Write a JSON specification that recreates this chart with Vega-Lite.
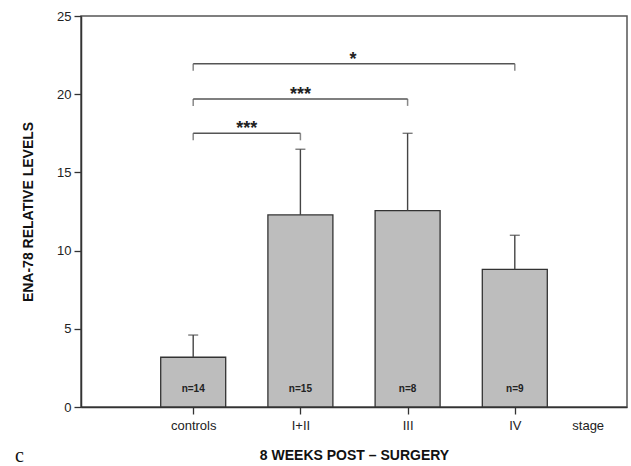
{
  "$schema": "https://vega.github.io/schema/vega-lite/v6.json",
  "width": 546,
  "height": 391,
  "autosize": {"type": "none"},
  "padding": {"left": 81, "top": 16, "right": 4, "bottom": 59},
  "background": "white",
  "config": {
    "view": {"stroke": "#555", "strokeWidth": 1.5},
    "font": "Liberation Sans"
  },
  "title": {
    "text": "c",
    "orient": "bottom",
    "anchor": "start",
    "frame": "group",
    "dx": -66,
    "dy": -20,
    "font": "Liberation Serif",
    "fontSize": 20,
    "fontWeight": "normal",
    "color": "#111"
  },
  "datasets": {
    "bars": [
      {"stage": "controls", "pos": 1, "mean": 3.18, "upper": 4.6, "n": "n=14"},
      {"stage": "I+II", "pos": 2, "mean": 12.28, "upper": 16.48, "n": "n=15"},
      {"stage": "III", "pos": 3, "mean": 12.55, "upper": 17.5, "n": "n=8"},
      {"stage": "IV", "pos": 4, "mean": 8.8, "upper": 10.98, "n": "n=9"}
    ],
    "brackets": [
      {"from": 1, "to": 2, "level": 17.5, "mid": 1.5, "sig": "***"},
      {"from": 1, "to": 3, "level": 19.7, "mid": 2.0, "sig": "***"},
      {"from": 1, "to": 4, "level": 21.95, "mid": 2.49, "sig": "*"}
    ]
  },
  "layer": [
    {
      "data": {"name": "bars"},
      "mark": {"type": "bar", "size": 65, "fill": "#bdbdbd", "stroke": "#333", "strokeWidth": 1.3},
      "encoding": {
        "x": {
          "field": "pos", "type": "quantitative",
          "scale": {"domain": [0, 5], "nice": false, "zero": false},
          "axis": {
            "values": [1, 2, 3, 4, 4.68],
            "labelExpr": "datum.value == 1 ? 'controls' : datum.value == 2 ? 'I+II' : datum.value == 3 ? 'III' : datum.value == 4 ? 'IV' : 'stage'",
            "title": "8 WEEKS POST \u2013 SURGERY",
            "titleFont": "Liberation Sans",
            "titleFontSize": 14,
            "titleFontWeight": "bold",
            "titleColor": "#111",
            "titlePadding": 16,
            "labelFont": "Liberation Sans",
            "labelFontSize": 13,
            "labelColor": "#222",
            "labelPadding": 5,
            "tickSize": 7,
            "tickColor": "#333",
            "tickWidth": 1.3,
            "tickOpacity": {"condition": {"test": "datum.value > 4.5", "value": 0}, "value": 1},
            "domainColor": "#333",
            "domainWidth": 1.5,
            "grid": false
          }
        },
        "y": {
          "field": "mean", "type": "quantitative",
          "scale": {"domain": [0, 25], "nice": false},
          "axis": {
            "values": [0, 5, 10, 15, 20, 25],
            "title": "ENA-78 RELATIVE  LEVELS",
            "titleFont": "Liberation Sans",
            "titleFontSize": 14,
            "titleFontWeight": "bold",
            "titleColor": "#111",
            "titlePadding": 21,
            "labelFont": "Liberation Sans",
            "labelFontSize": 13,
            "labelColor": "#222",
            "labelPadding": 3,
            "tickSize": 7,
            "tickColor": "#333",
            "tickWidth": 1.3,
            "domainColor": "#333",
            "domainWidth": 1.5,
            "grid": false
          }
        }
      }
    },
    {
      "data": {"name": "bars"},
      "mark": {"type": "rule", "stroke": "#444", "strokeWidth": 1.4},
      "encoding": {
        "x": {"field": "pos", "type": "quantitative"},
        "y": {"field": "mean", "type": "quantitative"},
        "y2": {"field": "upper"}
      }
    },
    {
      "data": {"name": "bars"},
      "mark": {"type": "tick", "orient": "horizontal", "size": 10, "thickness": 1.4, "color": "#444"},
      "encoding": {
        "x": {"field": "pos", "type": "quantitative"},
        "y": {"field": "upper", "type": "quantitative"}
      }
    },
    {
      "data": {"name": "bars"},
      "mark": {"type": "text", "font": "Liberation Sans", "fontSize": 10, "fontWeight": "bold", "color": "#222", "baseline": "middle"},
      "encoding": {
        "x": {"field": "pos", "type": "quantitative"},
        "y": {"datum": 1.15},
        "text": {"field": "n"}
      }
    },
    {
      "data": {"name": "brackets"},
      "mark": {"type": "rule", "stroke": "#555", "strokeWidth": 1.5},
      "encoding": {
        "x": {"field": "from", "type": "quantitative"},
        "x2": {"field": "to"},
        "y": {"field": "level", "type": "quantitative"}
      }
    },
    {
      "data": {"name": "brackets"},
      "mark": {"type": "tick", "orient": "vertical", "size": 7, "thickness": 1.5, "color": "#555", "yOffset": 3.5},
      "encoding": {
        "x": {"field": "from", "type": "quantitative"},
        "y": {"field": "level", "type": "quantitative"}
      }
    },
    {
      "data": {"name": "brackets"},
      "mark": {"type": "tick", "orient": "vertical", "size": 7, "thickness": 1.5, "color": "#555", "yOffset": 3.5},
      "encoding": {
        "x": {"field": "to", "type": "quantitative"},
        "y": {"field": "level", "type": "quantitative"}
      }
    },
    {
      "data": {"name": "brackets"},
      "mark": {"type": "text", "font": "Liberation Sans", "fontSize": 18, "fontWeight": "bold", "color": "#222", "baseline": "alphabetic", "dy": 1},
      "encoding": {
        "x": {"field": "mid", "type": "quantitative"},
        "y": {"field": "level", "type": "quantitative"},
        "text": {"field": "sig"}
      }
    }
  ]
}
